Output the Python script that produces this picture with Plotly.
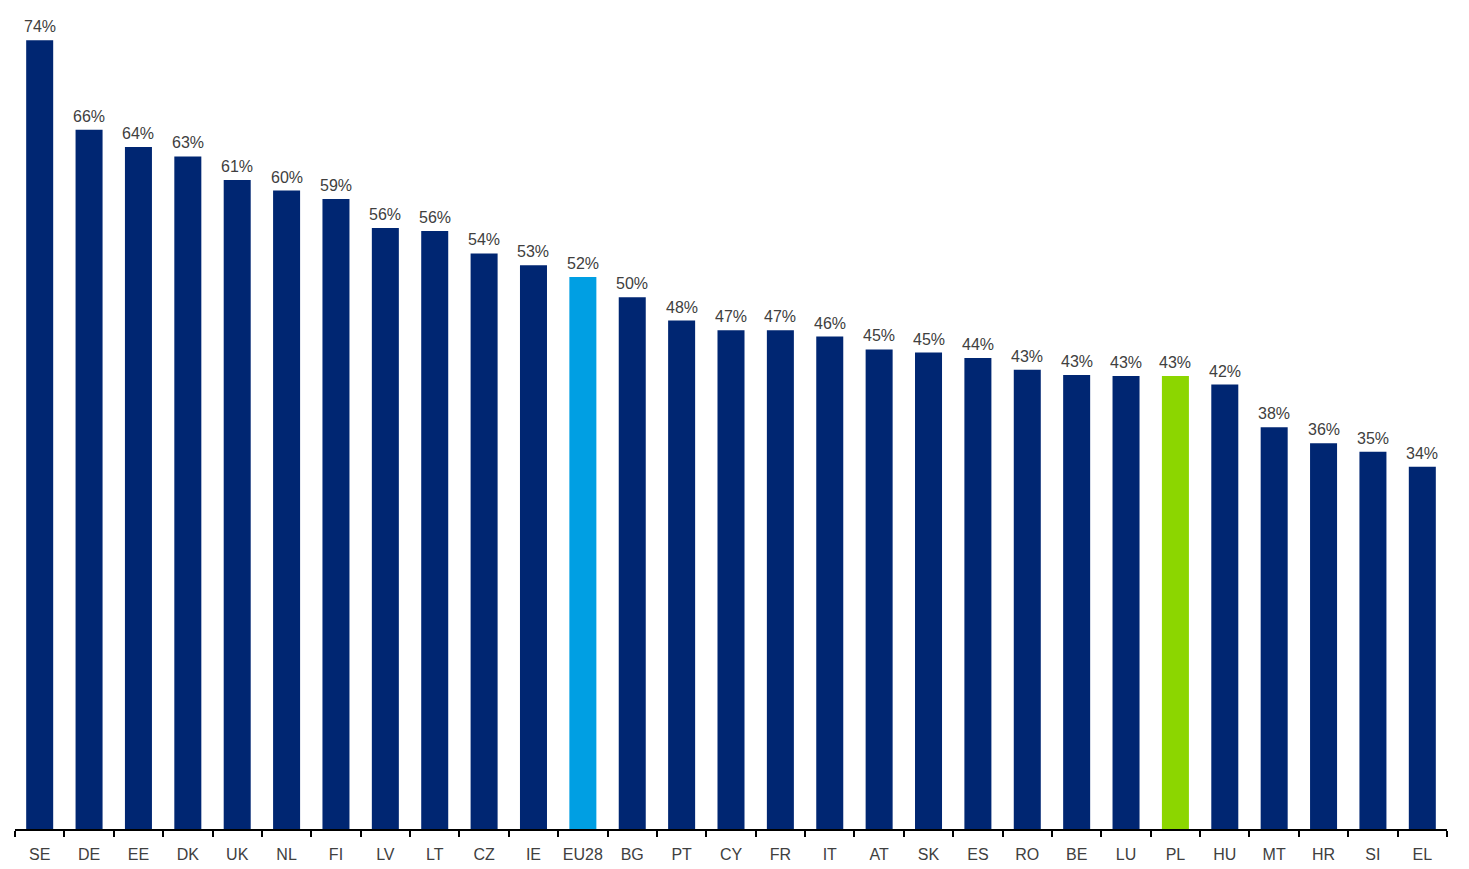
import plotly.graph_objects as go

countries = ["SE", "DE", "EE", "DK", "UK", "NL", "FI", "LV", "LT", "CZ", "IE", "EU28", "BG", "PT",
             "CY", "FR", "IT", "AT", "SK", "ES", "RO", "BE", "LU", "PL", "HU", "MT", "HR", "SI", "EL"]
values = [74.0, 65.6, 64.0, 63.1, 60.9, 59.9, 59.1, 56.4, 56.1, 54.0, 52.9, 51.8, 49.9, 47.7,
          46.8, 46.8, 46.2, 45.0, 44.7, 44.2, 43.1, 42.6, 42.5, 42.5, 41.7, 37.7, 36.2, 35.4, 34.0]
labels = ["74%", "66%", "64%", "63%", "61%", "60%", "59%", "56%", "56%", "54%", "53%", "52%", "50%", "48%",
          "47%", "47%", "46%", "45%", "45%", "44%", "43%", "43%", "43%", "43%", "42%", "38%", "36%", "35%", "34%"]

NAVY = "#002672"
EU_BLUE = "#009FE3"
PL_GREEN = "#8CD600"
colors = [EU_BLUE if c == "EU28" else PL_GREEN if c == "PL" else NAVY for c in countries]

FONT = "Liberation Sans, Arial, sans-serif"

fig = go.Figure(go.Bar(
    x=countries, y=values,
    marker=dict(color=colors, line=dict(width=0)),
    cliponaxis=False, hoverinfo="skip",
))

for c, v, t in zip(countries, values, labels):
    fig.add_annotation(
        x=c, y=v, text=t, showarrow=False, xanchor="center", yanchor="bottom",
        yshift=3, font=dict(family=FONT, size=16, color="#404040"),
    )

fig.update_layout(
    width=1461, height=861,
    margin=dict(l=7, r=22, t=11, b=40, autoexpand=False),
    paper_bgcolor="white", plot_bgcolor="white",
    bargap=0.453, showlegend=False,
    font=dict(family=FONT, size=16, color="#404040"),
)
fig.update_xaxes(
    type="category", showline=True, linecolor="black", linewidth=2,
    ticks="outside", tickson="boundaries", ticklen=6, tickwidth=2, tickcolor="black",
    ticklabelstandoff=10, tickangle=0,
    showgrid=False, tickfont=dict(size=16, color="#404040"),
)
fig.update_yaxes(range=[0, 76], visible=False, showgrid=False, zeroline=False)

fig.write_html("out.html")
